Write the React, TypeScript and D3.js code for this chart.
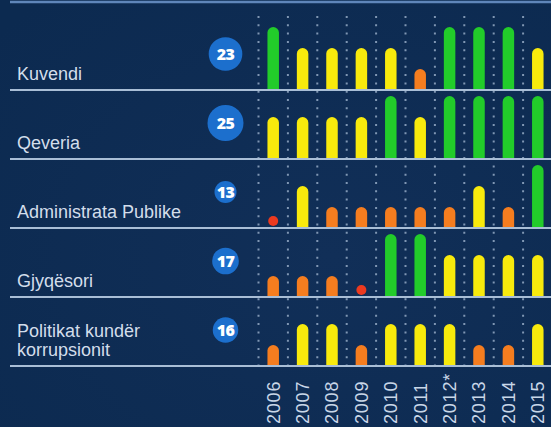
import React from "react";
import * as d3 from "d3";

const W = 551;
const H = 427;

const years = ["2006", "2007", "2008", "2009", "2010", "2011", "2012*", "2013", "2014", "2015"];
const categoryNames = ["Kuvendi", "Qeveria", "Administrata Publike", "Gjyqësori", "Politikat kundër korrupsionit"];
const categoryLines = [["Kuvendi"], ["Qeveria"], ["Administrata Publike"], ["Gjyqësori"], ["Politikat kundër", "korrupsionit"]];
const scores = [23, 25, 13, 17, 16];

// level: 0 = dot (red), 1 = orange, 2 = yellow, 3 = green
const kuvendi = [3, 2, 2, 2, 2, 1, 3, 3, 3, 2];
const qeveria = [2, 2, 2, 2, 3, 2, 3, 3, 3, 3];
const administrata = [0, 2, 1, 1, 1, 1, 1, 2, 1, 3];
const gjyqesori = [1, 1, 1, 0, 3, 3, 2, 2, 2, 2];
const politikat = [1, 2, 2, 1, 2, 2, 2, 1, 1, 2];
const series = [kuvendi, qeveria, administrata, gjyqesori, politikat];

const levelColors = ["#ec3a1f", "#f57d1f", "#f8ea0c", "#22cc2a"];

export default function App() {
  const x = d3.scaleBand<string>().domain(years).range([258.5, 552.5]);
  const rowBase = d3.scalePoint<string>().domain(categoryNames).range([90, 366]);
  const h = d3.scaleLinear().domain([0, 3]).range([0, 63]);
  const r = d3.scaleLinear().domain([13, 25]).range([11, 18]);

  const bw = 11.5;
  const barPath = (cx: number, base: number, height: number) => {
    const x0 = cx - bw / 2;
    const rad = bw / 2;
    const top = base - height;
    const p = d3.path();
    p.moveTo(x0, base);
    p.lineTo(x0, top + rad);
    p.arc(cx, top + rad, rad, Math.PI, 0, false);
    p.lineTo(x0 + bw, base);
    p.closePath();
    return p.toString();
  };

  const labelFont = "'Liberation Sans', Arial, sans-serif";

  return (
    <svg
      width={W}
      height={H}
      style={{ position: "absolute", left: 0, top: 0, display: "block" }}
    >
      <defs>
        <radialGradient id="bg" cx="0.6" cy="0.6" r="0.8">
          <stop offset="0" stopColor="#112f58" />
          <stop offset="1" stopColor="#0c2a50" />
        </radialGradient>
      </defs>
      <rect x={0} y={0} width={W} height={H} fill="url(#bg)" />

      {/* top line */}
      <line x1={10} x2={W} y1={2} y2={2} stroke="#5f86ba" strokeWidth={2.5} />

      {/* dotted verticals */}
      {years.map((yr) => (
        <line
          key={"v" + yr}
          x1={x(yr)!}
          x2={x(yr)!}
          y1={16}
          y2={372}
          stroke="#9db2cc"
          strokeWidth={2}
          strokeDasharray="2 6.3"
          opacity={0.8}
        />
      ))}

      {/* bars */}
      {categoryNames.map((cat, i) => {
        const base = rowBase(cat)!;
        return (
          <g key={"row" + cat}>
            {series[i].map((lvl, j) => {
              const cx = x(years[j])! + x.bandwidth() / 2;
              if (lvl === 0) {
                return <circle key={j} cx={cx} cy={base - 7} r={5} fill={levelColors[0]} />;
              }
              return <path key={j} d={barPath(cx, base, h(lvl))} fill={levelColors[lvl]} />;
            })}
          </g>
        );
      })}

      {/* row separators */}
      {categoryNames.map((cat) => (
        <line
          key={"sep" + cat}
          x1={10}
          x2={W}
          y1={rowBase(cat)!}
          y2={rowBase(cat)!}
          stroke="#a9bed6"
          strokeWidth={2}
        />
      ))}

      {/* labels */}
      {categoryNames.map((cat, i) => {
        const base = rowBase(cat)!;
        const lines = categoryLines[i];
        return (
          <text
            key={"lab" + cat}
            x={17}
            fontFamily={labelFont}
            fontSize={18}
            fill="#d3deeb"
          >
            {lines.map((ln, k) => (
              <tspan key={k} x={17} y={base - 10 - (lines.length - 1 - k) * 19}>
                {ln}
              </tspan>
            ))}
          </text>
        );
      })}

      {/* score badges */}
      {categoryNames.map((cat, i) => {
        const base = rowBase(cat)!;
        const cy = base - 36;
        return (
          <g key={"badge" + cat}>
            <circle cx={225.5} cy={cy} r={r(scores[i])} fill="#1c6fcd" />
            <text
              x={225.5}
              y={cy}
              dy="0.36em"
              textAnchor="middle"
              fontFamily="'Open Sans', Arial, sans-serif"
              fontWeight={800}
              fontSize={16}
              fill="#ffffff"
              letterSpacing={-0.5}
            >
              {scores[i]}
            </text>
          </g>
        );
      })}

      {/* year labels */}
      {years.map((yr) => {
        const cx = x(yr)! + x.bandwidth() / 2;
        return (
          <text
            key={"yr" + yr}
            transform={`translate(${cx},424) rotate(-90)`}
            dy="0.36em"
            textAnchor="start"
            fontFamily={labelFont}
            fontSize={18}
            letterSpacing={0.8}
            fill="#c9d7e8"
          >
            {yr}
          </text>
        );
      })}
    </svg>
  );
}
